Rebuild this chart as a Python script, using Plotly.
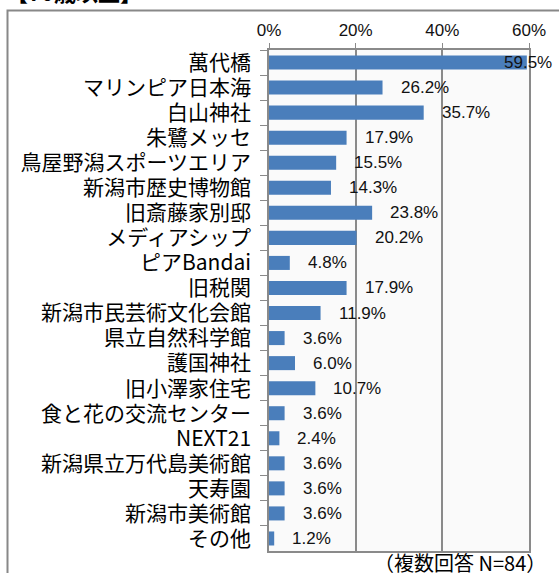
import plotly.graph_objects as go

categories = ["萬代橋", "マリンピア日本海", "白山神社", "朱鷺メッセ", "鳥屋野潟スポーツエリア",
              "新潟市歴史博物館", "旧斎藤家別邸", "メディアシップ", "ピアBandai", "旧税関",
              "新潟市民芸術文化会館", "県立自然科学館", "護国神社", "旧小澤家住宅",
              "食と花の交流センター", "NEXT21", "新潟県立万代島美術館", "天寿園",
              "新潟市美術館", "その他"]
values = [59.5, 26.2, 35.7, 17.9, 15.5, 14.3, 23.8, 20.2, 4.8, 17.9,
          11.9, 3.6, 6.0, 10.7, 3.6, 2.4, 3.6, 3.6, 3.6, 1.2]
tick_vals = [0, 20, 40, 60]
tick_text = ["0%", "20%", "40%", "60%"]
title_text = "【70歳以上】"
note_text = "（複数回答 N=84）"

W, H = 559, 573
L, R, T, B = 269, 30, 50, 22
pw, ph = W - L - R, H - T - B

def px_to_paper_x(px):
    return (px - L) / pw

def px_to_paper_y(py):
    return (H - B - py) / ph

fig = go.Figure()
fig.add_trace(go.Bar(
    x=values, y=categories, orientation="h",
    marker=dict(color="#4A7EBB", line=dict(width=0)),
    hoverinfo="x+y",
))

num_font = dict(family="Liberation Sans, Arial, sans-serif", size=17, color="#111")
annotations = []
xmax = tick_vals[-1]
for c, v in zip(categories, values):
    if v > xmax - 3:
        annotations.append(dict(x=v, y=c, xref="x", yref="y", text=f"{v:.1f}%",
                                showarrow=False, xanchor="right", xshift=27, font=num_font))
    else:
        annotations.append(dict(x=v, y=c, xref="x", yref="y", text=f"{v:.1f}%",
                                showarrow=False, xanchor="left", xshift=16, font=num_font))

annotations.append(dict(x=px_to_paper_x(4), y=px_to_paper_y(9), xref="paper", yref="paper",
                        text=f"<b>{title_text}</b>", showarrow=False, xanchor="left",
                        yanchor="bottom",
                        font=dict(family="Noto Sans CJK JP", size=22, color="#000")))
annotations.append(dict(x=px_to_paper_x(548), y=px_to_paper_y(562), xref="paper", yref="paper",
                        text=note_text, showarrow=False, xanchor="right", yanchor="middle",
                        font=dict(family="Noto Sans CJK JP", size=20, color="#000")))

fig.update_layout(
    width=W, height=H,
    margin=dict(l=L, r=R, t=T, b=B, pad=0),
    paper_bgcolor="white", plot_bgcolor="#FAFAFA",
    bargap=0.44, showlegend=False,
    annotations=annotations,
    shapes=[dict(type="rect", xref="paper", yref="paper",
                 x0=px_to_paper_x(7.5), y0=px_to_paper_y(700), x1=px_to_paper_x(700),
                 y1=px_to_paper_y(10.5), line=dict(color="#888", width=2), layer="below")],
)
fig.update_xaxes(
    side="top", range=[0, xmax], tickvals=tick_vals, ticktext=tick_text,
    showgrid=True, gridcolor="#8A8A8A", gridwidth=1.5, zeroline=False,
    showline=True, linecolor="#8A8A8A", linewidth=1.5, mirror=True,
    ticks="outside", ticklen=5, tickcolor="#8A8A8A",
    tickfont=dict(family="Liberation Sans, Arial, sans-serif", size=17, color="#111"),
    fixedrange=True,
)
fig.update_yaxes(
    autorange="reversed", showgrid=False,
    showline=True, linecolor="#8A8A8A", linewidth=1.5, mirror=True,
    ticks="outside", ticklen=7, tickcolor="#8A8A8A", tickson="boundaries",
    ticklabelstandoff=12,
    tickfont=dict(family="Noto Sans CJK JP", size=21, color="#000"),
    fixedrange=True,
)

fig.write_html("out.html", config={"displayModeBar": False},
               post_script="document.body.style.margin='0';document.body.style.overflow='hidden';")
